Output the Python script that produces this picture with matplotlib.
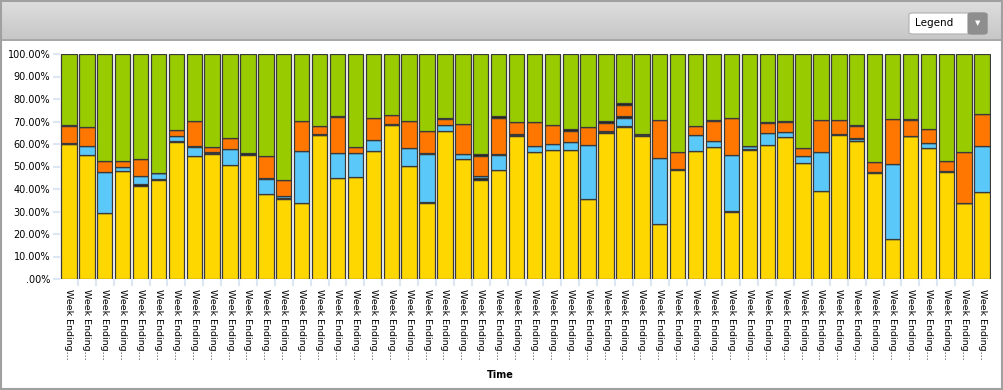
import numpy as np
import matplotlib.pyplot as plt
from matplotlib.patches import Rectangle, FancyBboxPatch

# bar labels (all truncated in the original)
weeks = ['Week Ending...'] * 52

# segment values in percent, bottom to top
yellow = [60.0, 55.3, 29.3, 47.8, 41.5, 44.1, 60.9, 54.5, 55.6, 50.8, 55.1, 37.8, 35.6,
          33.9, 64.0, 44.9, 45.2, 57.0, 68.6, 50.4, 33.8, 65.9, 53.3, 44.1, 48.3, 63.6,
          56.4, 57.2, 57.5, 35.7, 64.9, 67.6, 63.4, 24.4, 48.6, 57.0, 58.5, 29.8, 57.3,
          59.7, 63.1, 51.6, 39.3, 63.9, 61.5, 47.0, 17.9, 63.4, 58.1, 47.4, 33.8, 38.8]
dark_a = [0, 0, 0, 0, 0.6, 0.5, 0.5, 0, 0.5, 0, 0.8, 0, 0.5,
          0, 0, 0, 0, 0, 0, 0, 0.6, 0, 0, 0.6, 0, 0.5,
          0, 0, 0, 0, 0.5, 0.5, 0.6, 0, 0.5, 0, 0, 0.6, 0.6,
          0, 0, 0, 0, 0.5, 0, 0.6, 0, 0, 0, 0.6, 0, 0]
blue = [0.5, 3.7, 18.1, 2.0, 3.8, 2.4, 2.0, 4.2, 0.3, 7.1, 0, 6.5, 0.8,
        22.8, 0.3, 11.0, 10.7, 4.6, 0.3, 7.8, 21.2, 2.4, 2.3, 0.9, 6.8, 0.3,
        2.6, 2.7, 3.2, 24.0, 0.4, 3.6, 0.3, 29.4, 0, 7.0, 3.0, 24.7, 1.4,
        5.0, 2.2, 3.2, 17.1, 0, 0.6, 0, 33.4, 0, 2.5, 0, 0, 20.2]
dark_b = [0, 0, 0, 0, 0, 0, 0, 0.5, 0, 0, 0, 0.6, 0,
          0, 0, 0, 0, 0, 0, 0, 0.5, 0, 0, 0, 0.6, 0,
          0, 0, 0, 0, 0, 0.6, 0, 0, 0, 0, 0, 0, 0,
          0, 0, 0, 0, 0, 0.6, 0, 0, 0, 0, 0, 0, 0]
orange = [7.4, 8.6, 5.2, 2.5, 7.4, 0.3, 2.7, 10.9, 2.1, 4.9, 0, 9.8, 7.2,
          13.7, 3.8, 16.1, 2.6, 9.8, 3.8, 12.2, 9.8, 2.8, 13.4, 9.2, 16.0, 5.5,
          10.8, 8.5, 5.2, 7.9, 3.7, 5.2, 0, 16.9, 7.2, 4.0, 8.7, 16.6, 0,
          4.6, 4.5, 3.4, 14.3, 6.4, 5.3, 4.5, 20.0, 7.3, 6.1, 4.6, 22.8, 14.5]
dark_c = [0.6, 0, 0, 0, 0, 0, 0, 0, 0, 0, 0, 0, 0,
          0, 0, 0.6, 0, 0, 0, 0, 0, 0.6, 0, 0.6, 0.6, 0,
          0, 0, 0.6, 0, 0.6, 0.6, 0, 0, 0, 0, 0.6, 0, 0,
          0.6, 0.6, 0, 0, 0, 0.6, 0, 0, 0.6, 0, 0, 0, 0]

series = [yellow, dark_a, blue, dark_b, orange, dark_c]
colors = ['#FFD700', '#1a1a1a', '#5BC8FA', '#1a1a1a', '#FF7700', '#1a1a1a']
green = 100 - np.sum(np.array(series), axis=0)
series.append(list(green))
colors.append('#99CC00')

yticks = list(range(0, 101, 10))
ytick_labels = ['.00%'] + ['%d.00%%' % v for v in yticks[1:]]

fig = plt.figure(figsize=(10.04, 3.90), dpi=100)
fig.patch.set_facecolor('white')

# grey header band
hdr = fig.add_axes([0, 1 - 41 / 390, 1, 41 / 390])
grad = np.linspace(0, 1, 50).reshape(-1, 1)
hdr.imshow(grad, aspect='auto', cmap=plt.matplotlib.colors.LinearSegmentedColormap.from_list(
    'h', ['#dedede', '#c6c6c6']), extent=[0, 1, 0, 1], origin='upper')
hdr.set_xlim(0, 1)
hdr.set_ylim(0, 1)
hdr.axis('off')
fig.add_artist(Rectangle((0, 1 - 41 / 390), 1, 0.004, transform=fig.transFigure,
                         color='#a8a8a8', lw=0))

# legend dropdown
fig.add_artist(FancyBboxPatch((909 / 1004, 1 - 34 / 390), 78 / 1004, 21 / 390,
                              boxstyle='round,pad=0,rounding_size=0.004',
                              transform=fig.transFigure, fc='white', ec='#b0b0b0', lw=0.8))
fig.add_artist(FancyBboxPatch((968 / 1004, 1 - 34 / 390), 19 / 1004, 21 / 390,
                              boxstyle='round,pad=0,rounding_size=0.004',
                              transform=fig.transFigure, fc='#8e8e8e', ec='#8e8e8e', lw=0.8))
fig.text(915 / 1004, 1 - 23.5 / 390, 'Legend', fontsize=7.5, va='center', ha='left',
         family='DejaVu Sans', color='black')
fig.text(977.5 / 1004, 1 - 23.5 / 390, '\u25BC', fontsize=5, va='center', ha='center',
         color='white')

ax = fig.add_axes([60 / 1004, 1 - 279 / 390, 931 / 1004, 225 / 390])
x = np.arange(len(weeks))
bottom = np.zeros(len(weeks))
for vals, c in zip(series, colors):
    vals = np.array(vals, dtype=float)
    ax.bar(x, vals, bottom=bottom, width=0.86, color=c, edgecolor='#3a3a3a', linewidth=0.9)
    bottom += vals

ax.set_xlim(-0.5, len(weeks) - 0.5)
ax.set_ylim(0, 100)
ax.set_yticks(yticks)
ax.set_yticklabels(ytick_labels, fontsize=7)
ax.set_xticks(x)
ax.set_xticklabels(weeks, rotation=270, fontsize=6.8, va='top', ha='center')
ax.set_xticks(x[:-1] + 0.5, minor=True)
ax.tick_params(axis='x', which='major', length=0, pad=7)
ax.tick_params(axis='x', which='minor', length=5, color='#dde7f3', width=1.5)
ax.tick_params(axis='y', length=5, color='#dde7f3', width=1.5, pad=2)
for s in ax.spines.values():
    s.set_visible(False)
fig.text(500 / 1004, 1 - 375 / 390, 'Time', fontsize=7, fontweight='bold',
         ha='center', va='center')

# outer frame
fig.add_artist(Rectangle((0.001, 0.002), 0.997, 0.996, transform=fig.transFigure,
                         fill=False, ec='#a0a0a0', lw=1.5))

fig.savefig('out.png', dpi=100)
